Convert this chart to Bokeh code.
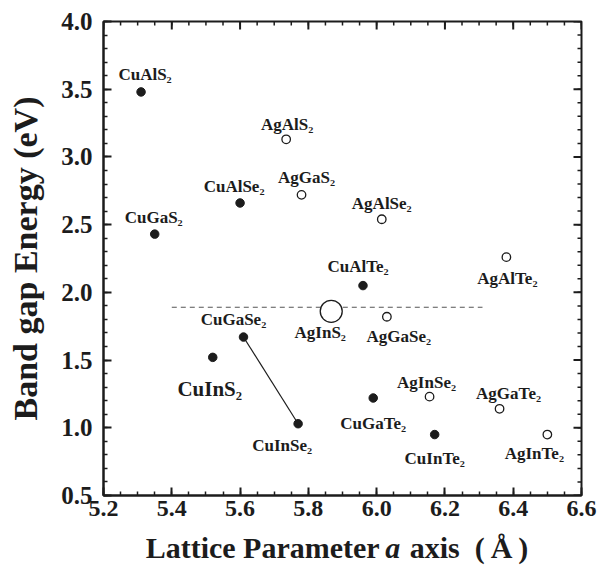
from bokeh.plotting import figure
from bokeh.layouts import column
from bokeh.models import ColumnDataSource, Range1d, FixedTicker, PrintfTickFormatter
from bokeh.core.properties import value
from bokeh.embed import file_html
from bokeh.resources import INLINE
import numpy as np

# Cu-based chalcopyrites (filled markers)
cu_names = ["CuAlS₂", "CuGaS₂", "CuAlSe₂", "CuGaSe₂", "CuInS₂",
            "CuInSe₂", "CuAlTe₂", "CuGaTe₂", "CuInTe₂"]
cu_lattice = [5.31, 5.35, 5.60, 5.61, 5.52, 5.77, 5.96, 5.99, 6.17]
cu_gap = [3.48, 2.43, 2.66, 1.67, 1.52, 1.03, 2.05, 1.22, 0.95]

# Ag-based chalcopyrites (open markers)
ag_names = ["AgAlS₂", "AgGaS₂", "AgAlSe₂", "AgAlTe₂", "AgGaSe₂",
            "AgInSe₂", "AgGaTe₂", "AgInTe₂"]
ag_lattice = [5.735, 5.78, 6.015, 6.38, 6.03, 6.155, 6.36, 6.50]
ag_gap = [3.13, 2.72, 2.54, 2.26, 1.82, 1.23, 1.14, 0.95]

# highlighted compound
hl_name = ["AgInS₂"]
hl_lattice = [5.867]
hl_gap = [1.86]

# reference level (dashed) and its lattice span
ref_gap = 1.89
ref_span = [5.40, 6.31]

# tie line between the two Cu-Se compounds
tie_names = ["CuGaSe₂", "CuInSe₂"]

x_ticks = [5.2, 5.4, 5.6, 5.8, 6.0, 6.2, 6.4, 6.6]
y_ticks = [0.5, 1.0, 1.5, 2.0, 2.5, 3.0, 3.5, 4.0]

# label placement around each marker (screen px: dx right, dy down)
label_offsets = {
    "CuAlS₂": (4, -17), "CuGaS₂": (-1, -17), "CuAlSe₂": (-6, -16),
    "CuGaSe₂": (-10, -18), "CuInS₂": (-3, 32), "CuInSe₂": (-16, 22),
    "CuAlTe₂": (-5, -19), "CuGaTe₂": (0, 26), "CuInTe₂": (0, 24),
    "AgAlS₂": (1, -15), "AgGaS₂": (5, -17), "AgAlSe₂": (0, -16),
    "AgAlTe₂": (1, 21), "AgGaSe₂": (12, 20), "AgInSe₂": (-3, -14),
    "AgGaTe₂": (9, -15), "AgInTe₂": (-13, 19), "AgInS₂": (-11, 21),
}
big_labels = {"CuInS₂"}

FONT = "Liberation Serif"
INK = "#1c1c1c"

p = figure(width=611, height=527, output_backend="svg", toolbar_location=None,
           x_range=Range1d(5.2, 6.6), y_range=Range1d(0.5, 4.0),
           min_border_left=103, min_border_right=30, min_border_top=21,
           min_border_bottom=32, background_fill_color="white",
           border_fill_color="white")
p.grid.visible = False
p.outline_line_color = INK
p.outline_line_width = 2

x_minor = [round(v, 3) for v in np.arange(5.2, 6.6001, 0.05)]
y_minor = [round(v, 3) for v in np.arange(0.5, 4.0001, 0.1)]

for ax, ticks, minor in ((p.xaxis[0], x_ticks, x_minor),
                         (p.yaxis[0], y_ticks, y_minor)):
    ax.ticker = FixedTicker(ticks=ticks, minor_ticks=minor)
    ax.formatter = PrintfTickFormatter(format="%.1f")
    ax.axis_line_color = INK
    ax.axis_line_width = 2
    ax.major_tick_line_color = INK
    ax.major_tick_line_width = 2
    ax.minor_tick_line_color = INK
    ax.minor_tick_line_width = 1.5
    ax.major_tick_in = 8
    ax.major_tick_out = 0
    ax.minor_tick_in = 4
    ax.minor_tick_out = 0
    ax.major_label_text_font = FONT
    ax.major_label_text_font_style = "bold"
    ax.major_label_text_color = INK

p.xaxis.major_label_text_font_size = "24px"
p.yaxis.major_label_text_font_size = "25px"
p.xaxis.major_label_standoff = 5
p.yaxis.major_label_standoff = 11

p.yaxis.axis_label = "Band gap Energy (eV)"
p.yaxis.axis_label_text_font = FONT
p.yaxis.axis_label_text_font_style = "bold"
p.yaxis.axis_label_text_font_size = "34px"
p.yaxis.axis_label_text_color = INK
p.yaxis.axis_label_standoff = 14

# inward ticks on the top and right edges of the box
p.ray(x=x_ticks, y=[4.0] * len(x_ticks), length=8, length_units="screen",
      angle=-np.pi / 2, line_color=INK, line_width=2)
p.ray(x=x_minor, y=[4.0] * len(x_minor), length=4, length_units="screen",
      angle=-np.pi / 2, line_color=INK, line_width=1.5)
p.ray(x=[6.6] * len(y_ticks), y=y_ticks, length=8, length_units="screen",
      angle=np.pi, line_color=INK, line_width=2)
p.ray(x=[6.6] * len(y_minor), y=y_minor, length=4, length_units="screen",
      angle=np.pi, line_color=INK, line_width=1.5)

# dashed reference level
p.line(x=ref_span, y=[ref_gap, ref_gap], line_color="#555555",
       line_dash="5 4", line_width=1.2)

# tie line CuGaSe2 - CuInSe2
tie_x = [cu_lattice[cu_names.index(n)] for n in tie_names]
tie_y = [cu_gap[cu_names.index(n)] for n in tie_names]
p.line(x=tie_x, y=tie_y, line_color=INK, line_width=1.2)

# markers
p.scatter(x=cu_lattice, y=cu_gap, size=8.5, marker="circle",
          fill_color=INK, line_color=INK)
p.scatter(x=ag_lattice, y=ag_gap, size=8.5, marker="circle",
          fill_color="white", line_color=INK, line_width=1.3)
p.scatter(x=hl_lattice, y=hl_gap, size=22, marker="circle",
          fill_color="white", line_color=INK, line_width=1.3)

# compound names
names = cu_names + ag_names + hl_name
xs = cu_lattice + ag_lattice + hl_lattice
ys = cu_gap + ag_gap + hl_gap


def label_source(selected):
    idx = [i for i, n in enumerate(names) if selected(n)]
    return ColumnDataSource(dict(
        x=[xs[i] for i in idx], y=[ys[i] for i in idx],
        text=[names[i] for i in idx],
        dx=[label_offsets[names[i]][0] for i in idx],
        dy=[label_offsets[names[i]][1] for i in idx],
    ))


for sel, size in ((lambda n: n not in big_labels, "17px"),
                  (lambda n: n in big_labels, "21px")):
    p.text(x="x", y="y", text="text", source=label_source(sel),
           x_offset="dx", y_offset="dy", text_font=value(FONT),
           text_font_style="bold", text_font_size=size, text_color=INK,
           text_align="center", text_baseline="middle")

# x-axis title strip (shares the x range so the pieces line up with the axis)
t = figure(width=611, height=43, output_backend="svg", toolbar_location=None,
           x_range=p.x_range, y_range=Range1d(0, 43), x_axis_type=None,
           y_axis_type=None, min_border_left=103, min_border_right=30,
           min_border_top=0, min_border_bottom=0,
           background_fill_color="white", border_fill_color="white")
t.grid.visible = False
t.outline_line_color = None

a_pos = 6.047
title_kw = dict(y=[23], text_font=value(FONT), text_font_size="30px",
                text_color=INK, text_baseline="middle")
t.text(x=[a_pos], text=["a"], text_align="center",
       text_font_style="bold italic", **title_kw)
t.text(x=[a_pos], text=["Lattice Parameter"], x_offset=-13,
       text_align="right", text_font_style="bold", **title_kw)
t.text(x=[a_pos], text=["axis\u2002(\u2009Å\u2009)"], x_offset=17,
       text_align="left", text_font_style="bold", **title_kw)

open("out.html", "w").write(file_html(column(p, t, spacing=0), INLINE))
